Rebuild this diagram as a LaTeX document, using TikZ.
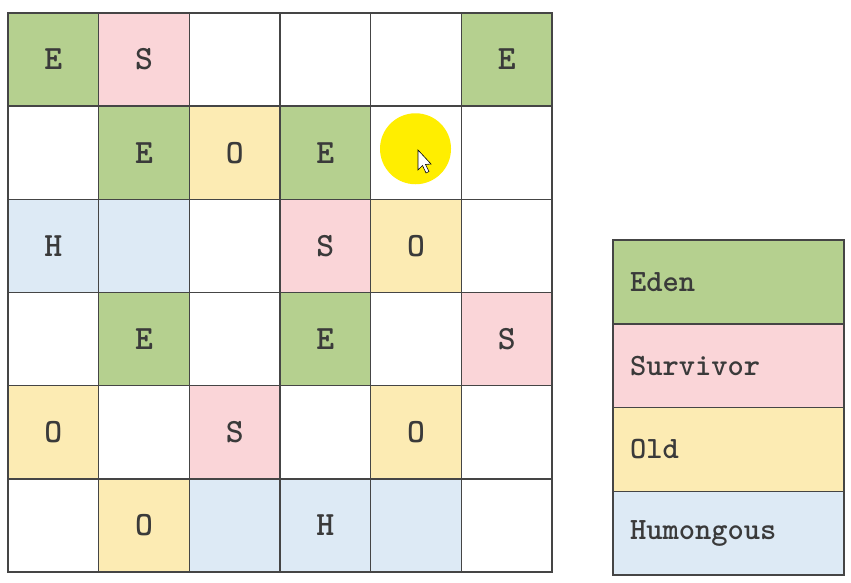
\documentclass[tikz,border=0pt]{standalone}
\usepackage{tikz}
\usepackage{xcolor}
\usetikzlibrary{positioning}
\definecolor{EdenGreen}{HTML}{B5D08F}
\definecolor{SurvPink}{HTML}{FAD5D8}
\definecolor{OldYellow}{HTML}{FCEBB3}
\definecolor{HumBlue}{HTML}{DDEAF5}
\definecolor{GridLine}{HTML}{454545}
\definecolor{TextGray}{HTML}{3A3A3A}
\definecolor{Marker}{HTML}{FFEE00}

\tikzset{
    cell/.style={draw=GridLine, line width=1.4pt, minimum width=90.67pt, minimum height=93.17pt,
        inner sep=0pt, outer sep=0pt, text=TextGray, font=\ttfamily\bfseries\fontsize{34}{34}\selectfont},
    legend/.style={draw=GridLine, line width=1.4pt, minimum height=83.75pt, text width=197pt,
        inner xsep=17pt, inner ysep=0pt, outer sep=0pt, align=left, text=TextGray,
        font=\ttfamily\bfseries\fontsize{31}{31}\selectfont},
    eden/.style={fill=EdenGreen},
    surv/.style={fill=SurvPink},
    old/.style={fill=OldYellow},
    hum/.style={fill=HumBlue},
    free/.style={fill=white}
}

\begin{document}
\begin{tikzpicture}[x=1pt, y=-1pt]
    \useasboundingbox (0,0) rectangle (851,583);
    \def\cw{90.67}
    \def\ch{93.17}

    % Region grid
    \foreach \s/\t [count=\c] in {eden/E, surv/S, free/{}, free/{}, free/{}, eden/E}
        \node[cell, \s] (r1c\c) at ({8+(\c-0.5)*\cw}, {13+0.5*\ch}) {\t};
    \foreach \s/\t [count=\c] in {free/{}, eden/E, old/O, eden/E, free/{}, free/{}}
        \node[cell, \s] (r2c\c) at ({8+(\c-0.5)*\cw}, {13+1.5*\ch}) {\t};
    \foreach \s/\t [count=\c] in {hum/H, hum/{}, free/{}, surv/S, old/O, free/{}}
        \node[cell, \s] (r3c\c) at ({8+(\c-0.5)*\cw}, {13+2.5*\ch}) {\t};
    \foreach \s/\t [count=\c] in {free/{}, eden/E, free/{}, eden/E, free/{}, surv/S}
        \node[cell, \s] (r4c\c) at ({8+(\c-0.5)*\cw}, {13+3.5*\ch}) {\t};
    \foreach \s/\t [count=\c] in {old/O, free/{}, surv/S, free/{}, old/O, free/{}}
        \node[cell, \s] (r5c\c) at ({8+(\c-0.5)*\cw}, {13+4.5*\ch}) {\t};
    \foreach \s/\t [count=\c] in {free/{}, old/O, hum/{}, hum/H, hum/{}, free/{}}
        \node[cell, \s] (r6c\c) at ({8+(\c-0.5)*\cw}, {13+5.5*\ch}) {\t};

    % Pointer highlight
    \fill[Marker] (r2c5.center) ++(-0.5,-4) circle (35.5);
    \draw[black, fill=white, line width=0.6pt] (418,150) -- (418,170) -- (422.5,165.5) -- (426,173)
        -- (429,171.5) -- (425.5,164.5) -- (431,164) -- cycle;

    % Legend
    \node[legend, eden] (lEden) at (728.5, 282) {Eden};
    \node[legend, surv, below=0pt of lEden] (lSurv) {Survivor};
    \node[legend, old, below=0pt of lSurv] (lOld) {Old};
    \node[legend, hum, below=0pt of lOld] (lHum) {Humongous};
\end{tikzpicture}
\end{document}
